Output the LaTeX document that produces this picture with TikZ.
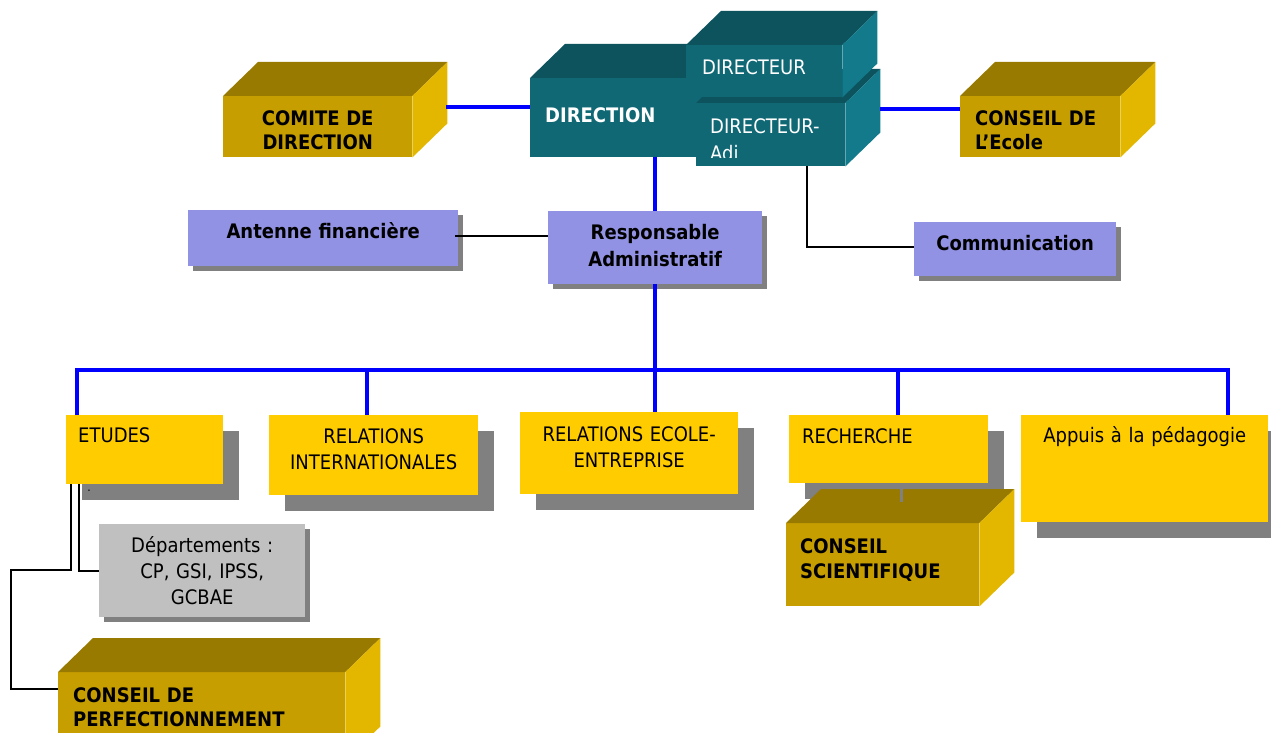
\documentclass[tikz,border=0pt]{standalone}
\usepackage{fontspec}
\setmainfont{DejaVu Sans}[FakeStretch=0.9]
\usetikzlibrary{shadows, calc}

\definecolor{jauneboite}{RGB}{255,204,0}
\definecolor{mauve}{RGB}{146,146,228}
\definecolor{grisclair}{RGB}{192,192,192}
\definecolor{ombre}{RGB}{128,128,128}
\definecolor{tealface}{RGB}{16,104,117}
\definecolor{tealdessus}{RGB}{12,83,94}
\definecolor{tealcote}{RGB}{18,122,138}
\definecolor{orface}{RGB}{198,158,0}
\definecolor{ordessus}{RGB}{153,122,0}
\definecolor{orcote}{RGB}{227,183,0}

\tikzstyle{cadre} = [rectangle, anchor=north west, inner ysep=0pt, inner xsep=0pt, font=\fontsize{20}{26}\selectfont]
\tikzstyle{boitejaune} = [cadre, fill=jauneboite, drop shadow={shadow xshift=16pt, shadow yshift=-16pt, fill=ombre, opacity=1}]
\tikzstyle{boitemauve} = [cadre, fill=mauve, align=center, font=\fontsize{20}{27}\selectfont\bfseries, drop shadow={shadow xshift=5pt, shadow yshift=-5pt, fill=ombre, opacity=1}]
\tikzstyle{boitegrise} = [cadre, fill=grisclair, align=center, drop shadow={shadow xshift=5pt, shadow yshift=-5pt, fill=ombre, opacity=1}]
\tikzstyle{blocteal} = [cadre, fill=tealface, text=white, align=left]
\tikzstyle{blocor} = [cadre, fill=orface, align=left, font=\fontsize{20}{24}\selectfont\bfseries]
\tikzstyle{lienbleu} = [draw=blue, line width=3.5pt]
\tikzstyle{lien} = [draw=black, line width=2pt]
\tikzstyle{liengris} = [draw=ombre, line width=3pt]

% top and side faces of a block whose front is the node #1
\newcommand{\faces}[3]{%
  \fill[#2] (#1.north west) -- ($(#1.north west)+(35,-34)$) -- ($(#1.north east)+(35,-34)$) -- (#1.north east) -- cycle;
  \fill[#3] (#1.north east) -- ($(#1.north east)+(35,-34)$) -- ($(#1.south east)+(35,-34)$) -- (#1.south east) -- cycle;
}

\begin{document}
\begin{tikzpicture}[x=1pt, y=-1pt]
\path[use as bounding box] (0,0) rectangle (1271,733);
\fill[white] (0,0) rectangle (1271,733);
\clip (0,0) rectangle (1271,733);

% administration
\node[boitemauve, text width=270pt, text height=28pt, text depth=28pt] (antenne) at (188,210) {Antenne financière};
\node[boitemauve, text width=214pt, text height=28pt, text depth=45pt] (resp) at (548,211) {Responsable\\Administratif};
\node[boitemauve, text width=202pt, text height=28pt, text depth=26pt] (communication) at (914,222) {Communication};

% services
\node[boitejaune, align=left, inner xsep=12pt, text width=133pt, text height=27pt, text depth=42pt] (etudes) at (66,415) {ETUDES};
\node[boitejaune, align=center, text width=209pt, text height=28pt, text depth=52pt] (ri) at (269,415) {RELATIONS\\INTERNATIONALES};
\node[boitejaune, align=center, text width=218pt, text height=29pt, text depth=53pt] (ree) at (520,412) {RELATIONS ECOLE-\\ENTREPRISE};
\node[boitejaune, align=left, inner xsep=13pt, text width=173pt, text height=28pt, text depth=40pt] (recherche) at (789,415) {RECHERCHE};
\node[boitejaune, align=center, text width=247pt, text height=27pt, text depth=80pt] (appuis) at (1021,415) {Appuis à la pédagogie};
\node[font=\fontsize{12}{12}\selectfont, inner sep=0pt] (point) at (89,491) {.};
\node[boitegrise, text width=206pt, text height=28pt, text depth=65pt] (depts) at (99,524) {Départements :\\CP, GSI, IPSS,\\GCBAE};

% direction blocks
\node[blocteal, font=\fontsize{20}{26}\selectfont\bfseries, inner xsep=15pt, text width=160pt, text height=44.5pt, text depth=34.5pt] (direction) at (530,78) {DIRECTION};
\faces{direction}{tealdessus}{tealcote}
\node[blocteal, inner xsep=14pt, text width=121pt, text height=30pt, text depth=33pt] (adjoint) at (696,103) {};
\faces{adjoint}{tealdessus}{tealcote}
\begin{scope}
  \clip (adjoint.north west) rectangle ($(adjoint.south east)+(0,-9)$);
  \node[cadre, text=white, align=left, font=\fontsize{20}{27}\selectfont, inner xsep=14pt, text width=121pt, text height=30pt, text depth=33pt] (adjtexte) at (adjoint.north west) {DIRECTEUR-\\Adj};
\end{scope}
\node[blocteal, inner xsep=16pt, text width=124pt, text height=29pt, text depth=23pt] (directeur) at (686,45) {DIRECTEUR};
\faces{directeur}{tealdessus}{tealcote}

% councils
\node[blocor, align=center, text width=189pt, text height=29pt, text depth=32pt] (comite) at (223,96) {COMITE DE\\DIRECTION};
\faces{comite}{ordessus}{orcote}
\node[blocor, inner xsep=15pt, text width=130pt, text height=29pt, text depth=32pt] (conseilecole) at (960,96) {CONSEIL DE\\L’Ecole};
\faces{conseilecole}{ordessus}{orcote}
\node[blocor, font=\fontsize{20}{25}\selectfont\bfseries, inner xsep=14pt, text width=165pt, text height=30pt, text depth=53pt] (cs) at (786,523) {CONSEIL\\SCIENTIFIQUE};
\faces{cs}{ordessus}{orcote}
\node[blocor, inner xsep=15pt, text width=257pt, text height=30pt, text depth=58pt] (cp) at (58,672) {CONSEIL DE\\PERFECTIONNEMENT};
\faces{cp}{ordessus}{orcote}

% blue links
\draw[lienbleu] ($(comite.east)+(34,-19.5)$) -- ($(direction.west)+(0,-10.5)$);
\draw[lienbleu] ($(adjoint.east)+(35,-25.5)$) -- ($(conseilecole.west)+(0,-17.5)$);
\draw[lienbleu] (resp.north) -- (resp.north |- direction.south);
\draw[lienbleu] (resp.south) -- (resp.south |- ree.north);
\coordinate (busG) at (77,370);
\coordinate (busD) at (1228,370);
\coordinate (busRI) at (367,370);
\coordinate (busRe) at (898,370);
\draw[lienbleu] (etudes.north -| busG) -- (busG) -- (busD) -- (busD |- appuis.north);
\draw[lienbleu] (busRI) -- (busRI |- ri.north);
\draw[lienbleu] (busRe) -- (busRe |- recherche.north);

% black links
\draw[lien] ($(antenne.east)+(-3,-2)$) -- ($(antenne.east -| resp.west)+(0,-2)$);
\draw[lien] ($(adjoint.south)+(36.5,0)$) |- ($(communication.west)+(0,-2)$);
\draw[lien] ($(etudes.south west)+(13,0)$) |- (depts.west);
\draw[lien] ($(etudes.south west)+(5,0)$) -- ++(0,86) -| ($(cp.north west)+(-47,17)$) -- ($(cp.north west)+(0,17)$);
\draw[liengris] ($(recherche.south)+(12.5,0)$) -- ($(cs.north)+(18.5,-21)$);
\end{tikzpicture}
\end{document}
